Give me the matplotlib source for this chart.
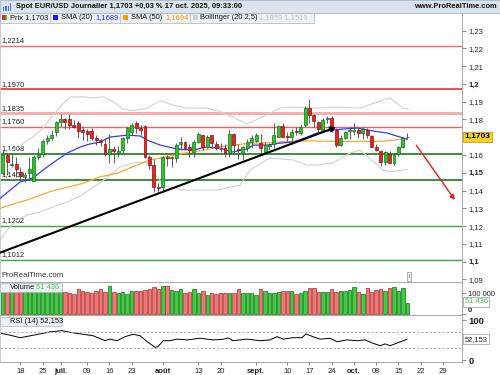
import matplotlib.pyplot as plt
from matplotlib.patches import Rectangle

plt.rcParams['font.family'] = ['Liberation Sans', 'DejaVu Sans']

# ---------------- data ----------------
# daily candles, 12 june -> 17 oct 2025 (trading day index 0..91)
opens = [1.1500, 1.1600, 1.1545, 1.1552, 1.1503, 1.1478, 1.1500, 1.1455, 1.1590, 1.1606,
         1.1680, 1.1696, 1.1729, 1.1787, 1.1802, 1.1802, 1.1769, 1.1780, 1.1738, 1.1735,
         1.1735, 1.1697, 1.1684, 1.1662, 1.1606, 1.1635, 1.1610, 1.1628, 1.1696, 1.1731,
         1.1778, 1.1754, 1.1763, 1.1590, 1.1544, 1.1420, 1.1420, 1.1590, 1.1584, 1.1581,
         1.1660, 1.1675, 1.1647, 1.1619, 1.1671, 1.1712, 1.1647, 1.1712, 1.1660, 1.1636,
         1.1638, 1.1610, 1.1716, 1.1635, 1.1610, 1.1638, 1.1675, 1.1679, 1.1666, 1.1619,
         1.1650, 1.1660, 1.1703, 1.1765, 1.1706, 1.1703, 1.1733, 1.1722, 1.1769, 1.1864,
         1.1825, 1.1787, 1.1740, 1.1800, 1.1810, 1.1740, 1.1656, 1.1696, 1.1735, 1.1735,
         1.1740, 1.1722, 1.1740, 1.1709, 1.1647, 1.1622, 1.1562, 1.1604, 1.1557, 1.1604,
         1.1647, 1.1700]
highs = [1.1631, 1.1614, 1.1614, 1.1590, 1.1530, 1.1505, 1.1587, 1.1600, 1.1641, 1.1690,
         1.1715, 1.1740, 1.1790, 1.1829, 1.1808, 1.1830, 1.1795, 1.1790, 1.1760, 1.1745,
         1.1750, 1.1712, 1.1692, 1.1688, 1.1721, 1.1650, 1.1650, 1.1700, 1.1760, 1.1780,
         1.1789, 1.1770, 1.1770, 1.1600, 1.1575, 1.1445, 1.1595, 1.1598, 1.1597, 1.1670,
         1.1700, 1.1680, 1.1660, 1.1685, 1.1730, 1.1715, 1.1715, 1.1715, 1.1680, 1.1670,
         1.1660, 1.1742, 1.1725, 1.1660, 1.1650, 1.1690, 1.1714, 1.1725, 1.1720, 1.1675,
         1.1670, 1.1780, 1.1770, 1.1780, 1.1730, 1.1745, 1.1760, 1.1770, 1.1878, 1.1918,
         1.1830, 1.1790, 1.1810, 1.1820, 1.1820, 1.1750, 1.1710, 1.1735, 1.1755, 1.1780,
         1.1752, 1.1760, 1.1750, 1.1715, 1.1660, 1.1630, 1.1625, 1.1620, 1.1610, 1.1650,
         1.1700, 1.1722]
lows = [1.1488, 1.1489, 1.1530, 1.1475, 1.1458, 1.1446, 1.1470, 1.1452, 1.1570, 1.1590,
        1.1660, 1.1685, 1.1705, 1.1760, 1.1745, 1.1745, 1.1750, 1.1698, 1.1683, 1.1680,
        1.1685, 1.1657, 1.1650, 1.1595, 1.1556, 1.1557, 1.1590, 1.1610, 1.1670, 1.1710,
        1.1725, 1.1710, 1.1585, 1.1520, 1.1394, 1.1390, 1.1390, 1.1540, 1.1530, 1.1560,
        1.1630, 1.1630, 1.1590, 1.1590, 1.1665, 1.1630, 1.1640, 1.1640, 1.1630, 1.1615,
        1.1590, 1.1590, 1.1610, 1.1575, 1.1573, 1.1620, 1.1640, 1.1675, 1.1610, 1.1610,
        1.1630, 1.1640, 1.1700, 1.1700, 1.1680, 1.1660, 1.1715, 1.1715, 1.1755, 1.1780,
        1.1760, 1.1730, 1.1730, 1.1780, 1.1730, 1.1645, 1.1650, 1.1690, 1.1690, 1.1715,
        1.1695, 1.1690, 1.1695, 1.1645, 1.1620, 1.1540, 1.1545, 1.1555, 1.1542, 1.1595,
        1.1640, 1.1695]
closes = [1.1600, 1.1560, 1.1552, 1.1522, 1.1482, 1.1490, 1.1522, 1.1590, 1.1606, 1.1679,
          1.1696, 1.1712, 1.1786, 1.1802, 1.1787, 1.1769, 1.1757, 1.1735, 1.1730, 1.1720,
          1.1697, 1.1684, 1.1672, 1.1606, 1.1635, 1.1625, 1.1625, 1.1696, 1.1752, 1.1769,
          1.1750, 1.1741, 1.1590, 1.1544, 1.1422, 1.1414, 1.1590, 1.1584, 1.1588, 1.1656,
          1.1675, 1.1638, 1.1628, 1.1675, 1.1716, 1.1647, 1.1703, 1.1666, 1.1638, 1.1634,
          1.1610, 1.1716, 1.1656, 1.1628, 1.1645, 1.1675, 1.1694, 1.1712, 1.1638, 1.1656,
          1.1658, 1.1712, 1.1765, 1.1703, 1.1700, 1.1731, 1.1731, 1.1759, 1.1867, 1.1825,
          1.1790, 1.1746, 1.1797, 1.1810, 1.1740, 1.1656, 1.1696, 1.1729, 1.1740, 1.1738,
          1.1722, 1.1745, 1.1715, 1.1647, 1.1628, 1.1562, 1.1617, 1.1557, 1.1604, 1.1647,
          1.1696, 1.1703]
volumes_k = [128, 122, 125, 130, 120, 118, 126, 132, 120, 125, 118, 122, 130, 112,
             106, 102, 95, 117, 111, 105, 98, 111, 117, 103, 133, 103, 102, 105, 95, 111,
             110, 108, 114, 117, 127, 117, 135, 135, 114, 110, 117, 102, 103, 117, 102, 110,
             90, 98, 95, 98, 102, 98, 102, 117, 102, 102,
             98, 90, 117, 110, 102, 102, 106, 111, 110, 111, 95, 98, 111, 122, 122, 103,
             105, 105, 117, 105, 111, 111, 114, 127, 106, 94, 125, 106, 114, 117, 110, 122,
             127, 111, 122, 51.4]

sma20_idx = [-0.6, 3.9, 6.8, 9.1, 12.2, 14.5, 17.4, 19.6, 21.9, 24.1, 28.0, 30.9, 32.5,
             35.4, 39.2, 42.8, 45.9, 48.9, 51.8, 54.9, 56.3, 59.4, 62.4, 65.3, 68.0, 70.7,
             74.3, 76.5, 79.7, 83.3, 86.4, 89.4, 91]
sma20_val = [1.1356, 1.1448, 1.1471, 1.1516, 1.1572, 1.1611, 1.1645, 1.1662, 1.1673,
             1.1701, 1.1712, 1.1707, 1.1684, 1.1656, 1.1634, 1.1628, 1.1645, 1.1639,
             1.1617, 1.1634, 1.1656, 1.1656, 1.1667, 1.1673, 1.1696, 1.1724, 1.1741,
             1.1746, 1.1752, 1.1735, 1.1724, 1.1701, 1.1689]
sma50_idx = [-0.6, 1.6, 5.5, 10.6, 18.1, 21.9, 25.7, 29.3, 33.1, 36.9, 40.6, 45.5, 48.9,
             51.8, 55.6, 59.4, 63.1, 68, 72, 78, 85, 88, 91]
sma50_val = [1.1300, 1.1319, 1.1347, 1.1394, 1.1441, 1.1478, 1.1497, 1.1534, 1.1572,
             1.1590, 1.1610, 1.1628, 1.1647, 1.1656, 1.1666, 1.1669, 1.1675, 1.1680,
             1.1678, 1.1676, 1.1677, 1.1684, 1.1694]
boll_up_idx = [-0.6, 3.9, 5.5, 6.8, 9.1, 11.3, 13.3, 15.1, 18.1, 20.3, 22.6, 24.8, 27.1,
               29.3, 32.5, 35.4, 38.3, 41.5, 45.9, 48.9, 51.8, 54.9, 57.9, 62.4, 65.3,
               70.7, 75.2, 80.4, 84.2, 87.1, 90.0, 91.2]
boll_up_val = [1.1611, 1.1645, 1.1684, 1.1701, 1.1752, 1.1825, 1.1881, 1.1926, 1.1928,
               1.1921, 1.1928, 1.1900, 1.1859, 1.1849, 1.1864, 1.1905, 1.1881, 1.1864,
               1.1864, 1.1844, 1.1815, 1.1774, 1.1808, 1.1864, 1.1870, 1.1864, 1.1870,
               1.1864, 1.1898, 1.1921, 1.1864, 1.1859]
boll_dn_idx = [-0.6, 1.0, 3.2, 5.5, 8.4, 11.3, 14.5, 17.4, 21.9, 24.1, 26.4, 29.3, 32.5,
               34.3, 36.5, 40.6, 48.2, 53.4, 55.6, 60.1, 65.3, 68.4, 70.7, 74.3, 78.1,
               80.4, 85.5, 87.1, 90.9]
boll_dn_val = [1.1122, 1.1178, 1.1234, 1.1263, 1.1279, 1.1308, 1.1336, 1.1369, 1.1443,
               1.1488, 1.1533, 1.1555, 1.1561, 1.1488, 1.1426, 1.1403, 1.1403, 1.1431,
               1.1516, 1.1583, 1.1572, 1.1544, 1.1544, 1.1555, 1.1611, 1.1628, 1.1516,
               1.1506, 1.1519]

rsi_idx = [-0.6, 1.6, 3.9, 6.1, 8.4, 10.6, 13.3, 15.1, 18.1, 20.3, 23.0, 24.1, 25.7, 27.5,
           29.3, 30.9, 32.5, 34.3, 34.9, 36.1, 37.6, 39.2, 41.5, 44.4, 47.3, 49.6, 50.7,
           51.8, 54.9, 57.9, 60.1, 61.7, 63.1, 65.3, 67.3, 68.2, 69.8, 71.4, 73.6, 75.2,
           77.4, 79.7, 81.5, 83.3, 84.9, 86.0, 87.1, 88.9, 90.9]
rsi_val = [67.5, 63, 56.5, 61, 66, 71, 74, 70, 65, 61.5, 49, 53, 49, 59, 65, 61.5, 46.5,
           32.5, 34, 49, 49, 53, 51, 55, 51, 52.5, 56, 49, 53, 49, 51, 59, 53, 56.5, 56.5,
           66, 59, 53, 55, 46.5, 51, 49, 51, 42.5, 36.5, 41, 36.5, 44, 52.2]

levels = [1.2214, 1.1970, 1.1835, 1.1760, 1.1608, 1.1460, 1.1202, 1.1012]
level_labels = ['1,2214', '1,1970', '1,1835', '1,1760', '1,1608', '1,1460', '1,1202', '1,1012']
level_colors = ['#f06a6a', '#e81c1c', '#f5a9a9', '#f06262', '#1b7a1b', '#1b7a1b', '#3da83d', '#3da83d']
level_widths = [1.0, 1.1, 2.0, 1.0, 1.2, 1.2, 1.0, 1.0]

trend_idx = [-0.6, 75.0]
trend_val = [1.1051, 1.1757]
arrow_idx = [93.0, 101.7]
arrow_val = [1.1656, 1.1347]

# 1,17 sits under the yellow last-price tag in the reference, so no text there
price_ticks = [1.09, 1.10, 1.11, 1.12, 1.13, 1.14, 1.15, 1.16, 1.17, 1.18, 1.19, 1.20, 1.21, 1.22, 1.23]
price_tick_labels = ['1,09', '1,1', '1,11', '1,12', '1,13', '1,14', '1,15', '1,16', '',
                     '1,18', '1,19', '1,2', '1,21', '1,22', '1,23']
bold_ticks = ['1,1', '1,15', '1,2']

date_ticks = [4, 9, 13, 19, 24, 29, 36, 44, 49, 57, 64, 69, 74, 79, 84, 89, 94, 99]
date_labels = ['18', '25', 'juil.', '09', '16', '23', 'août', '13', '20', 'sept.',
               '10', '17', '24', 'oct.', '08', '15', '22', '29']
month_labels = ['juil.', 'août', 'sept.', 'oct.']

# ---------------- figure ----------------
W, H = 500, 375
fig = plt.figure(figsize=(W / 100, H / 100), dpi=100)


def box(x0, y0, x1, y1):
    return [x0 / W, 1 - y1 / H, (x1 - x0) / W, (y1 - y0) / H]


def fx(x):
    return x / W


def fy(y):
    return 1 - y / H


ax = fig.add_axes(box(0, 13, 462, 282))
axv = fig.add_axes(box(0, 282, 462, 315), sharex=ax)
axr = fig.add_axes(box(0, 315, 462, 362), sharex=ax)

green, green_edge = '#2fc42f', '#14701a'
red, red_edge = '#e8231f', '#8c1212'

# candles
x = list(range(len(closes)))
up = [c >= o for o, c in zip(opens, closes)]
ax.vlines(x, lows, highs, color='#444444', lw=0.6, zorder=4)
bottoms = [min(o, c) for o, c in zip(opens, closes)]
heights = [max(abs(c - o), 0.00025) for o, c in zip(opens, closes)]
ax.bar(x, heights, bottom=bottoms, width=0.66,
       color=[green if u else red for u in up],
       edgecolor=[green_edge if u else red_edge for u in up], lw=0.5, zorder=5)

# indicators
ax.plot(boll_up_idx, boll_up_val, color='#d2d2d2', lw=0.8, zorder=2)
ax.plot(boll_dn_idx, boll_dn_val, color='#d2d2d2', lw=0.8, zorder=2)
ax.plot(sma50_idx, sma50_val, color='#ffa733', lw=0.9, zorder=3)
ax.plot(sma20_idx, sma20_val, color='#3a3aff', lw=0.9, zorder=3)

# horizontal levels
for lev, lab, col, lw in zip(levels, level_labels, level_colors, level_widths):
    ax.axhline(lev, color=col, lw=lw, zorder=1)
    ax.annotate(lab, xy=(0.004, lev), xycoords=ax.get_yaxis_transform(),
                xytext=(0, 1.2), textcoords='offset points', va='bottom', ha='left',
                fontsize=5.4, color='#222222', zorder=1)

# trend line + arrows
ax.annotate('', xy=(trend_idx[1], trend_val[1]), xytext=(trend_idx[0], trend_val[0]),
            arrowprops=dict(arrowstyle='-|>', color='black', lw=1.5, mutation_scale=7,
                            shrinkA=0, shrinkB=0), zorder=6)
ax.annotate('', xy=(arrow_idx[1], arrow_val[1]), xytext=(arrow_idx[0], arrow_val[0]),
            arrowprops=dict(arrowstyle='-|>', color='#e81c1c', lw=1.0, mutation_scale=7,
                            shrinkA=0, shrinkB=0), zorder=6)

ax.set_xlim(-0.61, 103.3)
ax.set_ylim(1.08857, 1.2399)

# volume
axv.bar(x, volumes_k, width=0.78,
        color=['#3fcc3f' if u else '#e97a78' for u in up],
        edgecolor=[green_edge if u else '#b52a2a' for u in up], lw=0.5)
axv.set_ylim(-4.8, 152.4)

# rsi
axr.plot(rsi_idx, rsi_val, color='black', lw=0.7)
for lvl in (70, 30):
    axr.axhline(lvl, color='#aaaaaa', lw=0.6, ls=(0, (3, 2)))
axr.set_ylim(-4.25, 113.25)

# axes styling
for a in (ax, axv, axr):
    a.yaxis.tick_right()
    a.tick_params(axis='y', direction='out', length=3, width=0.6, color='#777777',
                  labelsize=5.5, pad=1.5, labelcolor='#222222')
    for s in ('top', 'bottom', 'left', 'right'):
        a.spines[s].set_color('#9a9a9a')
        a.spines[s].set_linewidth(0.6)
    a.spines['left'].set_color('#c8c8c8')
ax.spines['top'].set_visible(False)
ax.tick_params(axis='x', bottom=False, labelbottom=False)
axv.tick_params(axis='x', bottom=False, labelbottom=False)

ax.set_yticks(price_ticks)
ax.set_yticklabels(price_tick_labels)
for t in ax.get_yticklabels():
    if t.get_text() in bold_ticks:
        t.set_fontweight('bold')

axv.set_yticks([0, 100])
axv.set_yticklabels(['0', '100 000'])
for t in axv.get_yticklabels():
    if t.get_text() == '0':
        t.set_fontweight('bold')
        t.set_verticalalignment('bottom')

axr.set_yticks([0, 100])
axr.set_yticklabels(['0', '100'], fontsize=6.8, fontweight='bold')

axr.set_xticks(date_ticks)
axr.set_xticklabels(date_labels)
axr.tick_params(axis='x', direction='out', length=2, width=0.6, color='#777777',
                labelsize=5.5, pad=2, labelcolor='#222222')
for t in axr.get_xticklabels():
    if t.get_text() in month_labels:
        t.set_fontweight('bold')

# value tags on the right
ax.text(1.006, closes[-1], '1,1703', transform=ax.get_yaxis_transform(), va='center',
        ha='left', fontsize=6, fontweight='bold', color='black',
        bbox=dict(boxstyle='square,pad=0.2', fc='#f7d21e', ec='#b09010', lw=0.5), zorder=10)
axv.text(1.006, volumes_k[-1] + 8, '51 436', transform=axv.get_yaxis_transform(), va='center',
         ha='left', fontsize=5.4, color='#3fcc3f',
         bbox=dict(boxstyle='square,pad=0.2', fc='white', ec='#999999', lw=0.5))
axr.text(1.006, rsi_val[-1], '52,153', transform=axr.get_yaxis_transform(), va='center',
         ha='left', fontsize=5.4, color='#222222',
         bbox=dict(boxstyle='square,pad=0.2', fc='white', ec='#999999', lw=0.5))

# watermark / info
ax.text(0.004, 0.012, 'ProRealTime.com', transform=ax.transAxes, fontsize=5.6,
        color='#333333', va='bottom', ha='left')
fig.text(fx(409), fy(276.5), 'i', fontsize=4.5, color='#666666', ha='center', va='center',
         bbox=dict(boxstyle='square,pad=0.25', fc='#f0f0f0', ec='#999999', lw=0.5))

# header bar
fig.patches.append(Rectangle((0, fy(13)), 1, 13 / H, transform=fig.transFigure,
                             fc='#dbe4ec', ec='#a9b6c2', lw=0.6, zorder=0))
fig.text(fx(16), fy(6.8), 'Spot EUR/USD Journalier 1,1703 +0,03 % 17 oct. 2025, 09:33:00',
         fontsize=5.4, fontweight='bold', color='#111111', va='center', ha='left')
fig.text(fx(497), fy(6.8), 'www.ProRealTime.com', fontsize=5.4, fontweight='bold',
         color='#111111', va='center', ha='right')
for i, hgt in enumerate([3, 5, 4, 7]):
    fig.patches.append(Rectangle((fx(3 + i * 2.3), fy(10.5)), 1.3 / W, hgt / H,
                                 transform=fig.transFigure, fc='#3d7fc4', ec='none'))

# legend row
fig.patches.append(Rectangle((0, fy(22.5)), 314 / W, 9.5 / H, transform=fig.transFigure,
                             fc='#eef1f4', ec='#aab4be', lw=0.5, zorder=1))
for sx in (50, 120, 190):
    fig.lines.append(plt.Line2D([fx(sx), fx(sx)], [fy(22.5), fy(13)],
                                transform=fig.transFigure, color='#aab4be', lw=0.5))


def square(x0, y0, col, w=5):
    fig.patches.append(Rectangle((fx(x0), fy(y0 + 5)), w / W, 5 / H,
                                 transform=fig.transFigure, fc=col, ec='none', zorder=2))


square(2, 15.3, '#e8231f', 2.5)
square(4.5, 15.3, '#2fc42f', 2.5)
square(52.5, 15.3, '#1a1aff')
square(122.5, 15.3, '#ff9900')
square(192.5, 15.3, '#d0d0d0')
ly = fy(17.8)
fig.text(fx(10), ly, 'Prix 1,1703', fontsize=5.4, va='center', color='#111111')
fig.text(fx(61), ly, 'SMA (20)', fontsize=5.4, va='center', color='#111111')
fig.text(fx(95), ly, '1,1689', fontsize=5.4, va='center', color='#2a2aff')
fig.text(fx(131), ly, 'SMA (50)', fontsize=5.4, va='center', color='#111111')
fig.text(fx(165), ly, '1,1694', fontsize=5.4, va='center', color='#ff9900')
fig.text(fx(200), ly, 'Bollinger (20 2,5)', fontsize=5.4, va='center', color='#111111')
fig.text(fx(259), ly, '1,1859 1,1519', fontsize=5.4, va='center', color='#c4c4c4')

# volume / rsi labels
fig.patches.append(Rectangle((0, fy(292)), 62 / W, 9 / H, transform=fig.transFigure,
                             fc='#eef1f4', ec='#aab4be', lw=0.5, zorder=3))
square(1.5, 285, '#e8231f', 2.5)
square(4, 285, '#2fc42f', 2.5)
fig.text(fx(10), fy(287.6), 'Volume', fontsize=5.4, va='center', color='#111111', zorder=4)
fig.text(fx(36), fy(287.6), '51 436', fontsize=5.4, va='center', color='#3fcc3f', zorder=4)
fig.patches.append(Rectangle((0, fy(326)), 62 / W, 9 / H, transform=fig.transFigure,
                             fc='#eef1f4', ec='#aab4be', lw=0.5, zorder=3))
square(1.5, 319, '#111111')
fig.text(fx(10), fy(321.6), 'RSI (14) 52,153', fontsize=5.4, va='center', color='#111111',
         zorder=4)

fig.savefig('out.png', dpi=100)
